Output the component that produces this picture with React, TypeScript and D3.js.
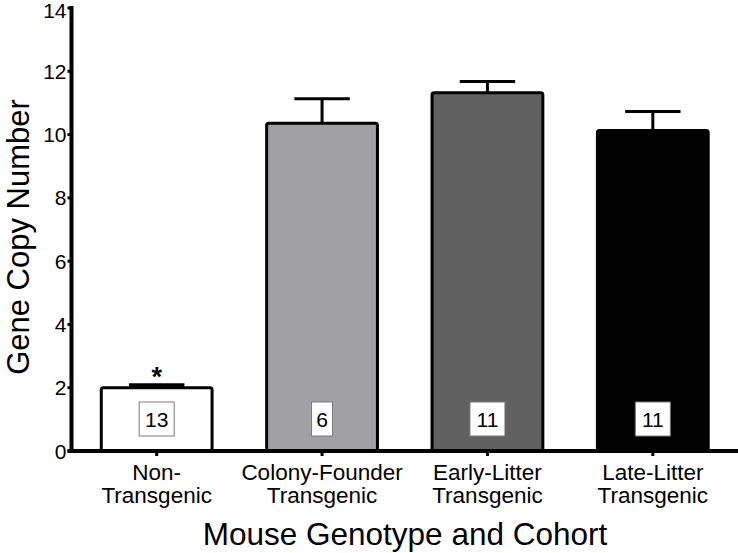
import React from "react";
import * as d3 from "d3";

const categories = ["Non-Transgenic", "Colony-Founder Transgenic", "Early-Litter Transgenic", "Late-Litter Transgenic"];
const labelLines = [["Non-", "Transgenic"], ["Colony-Founder", "Transgenic"], ["Early-Litter", "Transgenic"], ["Late-Litter", "Transgenic"]];
const means = [2.0, 10.36, 11.32, 10.13];
const errors = [0.08, 0.77, 0.36, 0.6];
const sampleSizes = [13, 6, 11, 11];
const fills = ["#ffffff", "#a1a1a5", "#616161", "#000000"];
const yTicks = [0, 2, 4, 6, 8, 10, 12, 14];
const significant = [true, false, false, false];

const width = 738;
const height = 553;
const marginLeft = 71.5;
const marginTop = 8;
const plotBottom = 451;
const fontFamily = "Arial, 'Liberation Sans', sans-serif";

const App = () => {
  const x = d3
    .scaleBand()
    .domain(categories)
    .range([marginLeft, width])
    .paddingInner(0.33)
    .paddingOuter(0.18);

  const y = d3.scaleLinear().domain([0, 14]).range([plotBottom, marginTop]);

  return (
    <svg width={width} height={height} style={{ position: "absolute", left: 0, top: 0, background: "#fff" }}>
      {/* bars */}
      {categories.map((c, i) => (
        <rect
          key={c}
          x={x(c)}
          y={y(means[i])}
          width={x.bandwidth()}
          height={y(0) - y(means[i])}
          fill={fills[i]}
          stroke="#000"
          strokeWidth={3}
          rx={2}
        />
      ))}
      {/* error bars */}
      {categories.map((c, i) => {
        const cx = x(c)! + x.bandwidth() / 2;
        const capHalf = x.bandwidth() / 4;
        return (
          <g key={c} stroke="#000" strokeWidth={3}>
            <line x1={cx} x2={cx} y1={y(means[i])} y2={y(means[i] + errors[i])} />
            <line x1={cx - capHalf} x2={cx + capHalf} y1={y(means[i] + errors[i])} y2={y(means[i] + errors[i])} strokeWidth={i === 0 ? 4 : 3} />
          </g>
        );
      })}
      {/* significance */}
      {categories.map((c, i) =>
        significant[i] ? (
          <text
            key={c}
            x={x(c)! + x.bandwidth() / 2}
            y={y(means[i] + errors[i]) + 1}
            textAnchor="middle"
            fontFamily={fontFamily}
            fontWeight="bold"
            fontSize={27}
          >
            *
          </text>
        ) : null
      )}
      {/* sample size boxes */}
      {categories.map((c, i) => {
        const cx = x(c)! + x.bandwidth() / 2;
        const label = String(sampleSizes[i]);
        const bw = label.length > 1 ? 35 : 21;
        return (
          <g key={c}>
            <rect x={cx - bw / 2} y={402} width={bw} height={34} fill="#fff" stroke="#7a7a7a" strokeWidth={1} />
            <text x={cx} y={427} textAnchor="middle" fontFamily={fontFamily} fontSize={21}>
              {label}
            </text>
          </g>
        );
      })}
      {/* y axis */}
      <line x1={marginLeft} x2={marginLeft} y1={marginTop - 2} y2={plotBottom + 2} stroke="#000" strokeWidth={4} />
      {yTicks.map((t) => (
        <g key={t}>
          <line x1={marginLeft - 4} x2={marginLeft} y1={y(t)} y2={y(t)} stroke="#000" strokeWidth={3} />
          <text x={marginLeft - 5} y={Math.max(y(t), 10)} dy="0.36em" textAnchor="end" fontFamily={fontFamily} fontSize={21}>
            {t}
          </text>
        </g>
      ))}
      {/* x axis */}
      <line x1={marginLeft - 4} x2={width} y1={plotBottom} y2={plotBottom} stroke="#000" strokeWidth={4} />
      {categories.map((c, i) => {
        const cx = x(c)! + x.bandwidth() / 2;
        return (
          <g key={c}>
            <line x1={cx} x2={cx} y1={plotBottom} y2={plotBottom + 5} stroke="#000" strokeWidth={3} />
            {labelLines[i].map((l, j) => (
              <text key={l} x={cx} y={480 + j * 23} textAnchor="middle" fontFamily={fontFamily} fontSize={22.5}>
                {l}
              </text>
            ))}
          </g>
        );
      })}
      {/* axis titles */}
      <text x={405} y={545} textAnchor="middle" fontFamily={fontFamily} fontSize={31.5}>
        Mouse Genotype and Cohort
      </text>
      <text
        transform={`translate(${29},${237}) rotate(-90)`}
        textAnchor="middle"
        fontFamily={fontFamily}
        fontSize={31}
      >
        Gene Copy Number
      </text>
    </svg>
  );
};

export default App;
